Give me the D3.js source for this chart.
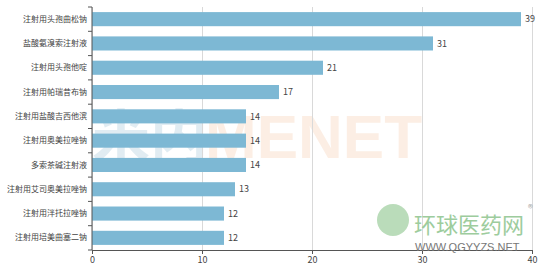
<!DOCTYPE html>
<html>
<head>
<meta charset="utf-8">
<script src="https://cdn.jsdelivr.net/npm/d3@7"></script>
<style>
  body { margin: 0; background: #fff; }
  text { font-family: "Noto Sans CJK SC", "Noto Sans", sans-serif; }
  .axis path, .axis line { stroke: #555; }
  .axis text { fill: #444; font-size: 9px; }
  .yaxis text { font-size: 8px; }
  .grid line { stroke: #d9d9d9; }
  .grid path { display: none; }
</style>
</head>
<body>
<div id="chart"></div>
<script>
var drugs = ["注射用头孢曲松钠", "盐酸氨溴索注射液", "注射用头孢他啶", "注射用帕瑞昔布钠",
    "注射用盐酸吉西他滨", "注射用奥美拉唑钠", "多索茶碱注射液", "注射用艾司奥美拉唑钠",
    "注射用泮托拉唑钠", "注射用培美曲塞二钠"];
var counts = [39, 31, 21, 17, 14, 14, 14, 13, 12, 12];
var xTicks = [0, 10, 20, 30, 40];

function drawChart() {
    var w = 548, h = 269;
    var left = 92, right = 532, top = 7, bottom = 250;

    var svg = d3.select("#chart").append("svg")
        .attr("width", w)
        .attr("height", h);

    var xScale = d3.scaleLinear().domain([0, 40]).range([left, right]);
    var yScale = d3.scaleBand().domain(drugs).range([top, bottom]).paddingInner(0.42).paddingOuter(0.21);

    /* watermarks */
    svg.append("text")
        .attr("x", 92).attr("y", 158)
        .style("font-size", "58px").style("font-weight", "bold")
        .style("fill", "#9fc3d6").style("opacity", 0.3)
        .text("米内");
    svg.append("text")
        .attr("x", 205).attr("y", 158)
        .style("font-size", "62px").style("font-weight", "bold")
        .style("font-family", "Liberation Sans, sans-serif")
        .style("fill", "#f7c9a8").style("opacity", 0.3)
        .text("MENET");

    /* gridlines */
    svg.append("g")
        .attr("class", "grid")
        .attr("transform", "translate(0," + bottom + ")")
        .call(d3.axisBottom(xScale).tickValues(xTicks).tickSize(-(bottom - top)).tickFormat(""));

    /* bars */
    svg.selectAll("rect.bar")
        .data(drugs)
        .enter()
        .append("rect")
        .attr("class", "bar")
        .attr("x", xScale(0))
        .attr("y", d => yScale(d))
        .attr("width", (d, i) => xScale(counts[i]) - xScale(0))
        .attr("height", yScale.bandwidth())
        .attr("fill", "#7db8d4");

    svg.selectAll("text.val")
        .data(drugs)
        .enter()
        .append("text")
        .attr("class", "val")
        .attr("x", (d, i) => xScale(counts[i]) + 4)
        .attr("y", d => yScale(d) + yScale.bandwidth() / 2)
        .attr("dy", "0.35em")
        .style("font-size", "9px")
        .style("fill", "#444")
        .text((d, i) => counts[i]);

    /* axes */
    svg.append("g")
        .attr("class", "axis")
        .attr("transform", "translate(0," + bottom + ")")
        .call(d3.axisBottom(xScale).tickValues(xTicks).tickSize(4).tickPadding(3));

    var yAxis = svg.append("g")
        .attr("class", "axis yaxis")
        .attr("transform", "translate(" + left + ",0)")
        .call(d3.axisLeft(yScale).tickSize(0).tickPadding(5));
    yAxis.select(".domain").attr("d", "M0," + top + "V" + bottom);

    // category boundary ticks
    var step = (bottom - top) / drugs.length;
    yAxis.selectAll("line.sep")
        .data(d3.range(drugs.length + 1))
        .enter()
        .append("line")
        .attr("class", "sep")
        .attr("x1", -4).attr("x2", 0)
        .attr("y1", d => top + d * step)
        .attr("y2", d => top + d * step);

    /* logo watermark */
    svg.append("circle")
        .attr("cx", 393).attr("cy", 220).attr("r", 16)
        .style("fill", "#8cc48c").style("opacity", 0.6);
    svg.append("text")
        .attr("x", 414).attr("y", 233)
        .style("font-size", "22px")
        .style("fill", "#8cc48c").style("opacity", 0.85)
        .text("环球医药网");
    svg.append("text")
        .attr("x", 415).attr("y", 251)
        .style("font-size", "11px")
        .style("font-family", "Liberation Sans, sans-serif")
        .style("fill", "#777")
        .text("WWW.QGYYZS.NET");
    svg.append("text")
        .attr("x", 528).attr("y", 212)
        .style("font-size", "10px")
        .style("fill", "#aaa")
        .text("®");
}

drawChart();
</script>
</body>
</html>
